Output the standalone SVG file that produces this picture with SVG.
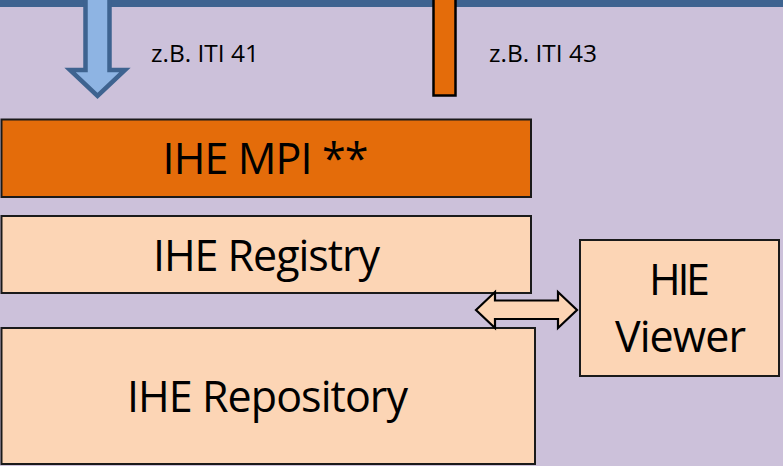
<svg xmlns="http://www.w3.org/2000/svg" width="783" height="466" viewBox="0 0 783 466">
  <style>
    .box { stroke: #1a1a1a; stroke-width: 2; }
    .peach { fill: #fcd5b5; }
    .orange { fill: #e46c0a; }
    .big { font-family: "Open Sans", "Liberation Sans", sans-serif; font-size: 43px; fill: #000; text-anchor: middle; }
    .small { font-family: "Open Sans", "Liberation Sans", sans-serif; font-size: 23.5px; fill: #000; }
  </style>
  <rect x="0" y="0" width="783" height="466" fill="#ccc1da"/>
  <rect x="0" y="0" width="783" height="7" fill="#3e6390"/>

  <g id="connectors">
    <path id="arrow-iti41" d="M85.5,-5 L85.5,70 L70,70 L97.5,96 L125,70 L109.5,70 L109.5,-5 Z" fill="#8eb4e3" stroke="#3e6390" stroke-width="4.5" stroke-linejoin="miter"/>
    <rect id="bar-iti43" x="433.5" y="-4" width="22" height="99.5" class="orange" stroke="#000" stroke-width="2.5"/>
  </g>

  <g id="label-iti41"><text class="small" x="151" y="61.5" textLength="108" lengthAdjust="spacingAndGlyphs">z.B. ITI 41</text></g>
  <g id="label-iti43"><text class="small" x="489" y="61.5" textLength="108" lengthAdjust="spacingAndGlyphs">z.B. ITI 43</text></g>

  <g id="mpi">
    <rect x="1.5" y="119.5" width="529.5" height="77.5" class="box orange"/>
    <text class="big" x="265.5" y="174" textLength="206">IHE MPI **</text>
  </g>
  <g id="registry">
    <rect x="1.5" y="216" width="529.5" height="77" class="box peach"/>
    <text class="big" x="266.5" y="271" textLength="227">IHE Registry</text>
  </g>
  <g id="repository">
    <rect x="1.5" y="328" width="533.5" height="136" class="box peach"/>
    <text class="big" x="267.5" y="412" textLength="281">IHE Repository</text>
  </g>
  <g id="viewer">
    <rect x="580" y="240" width="199" height="136" class="box peach"/>
    <text class="big" x="679.5" y="295" textLength="61">HIE</text>
    <text class="big" x="680.5" y="352" textLength="131">Viewer</text>
  </g>

  <g id="connectors-2">
    <path id="double-arrow" d="M476,310 L495,292 L495,300.5 L558,300.5 L558,292 L577,310 L558,328 L558,319 L495,319 L495,328 Z" class="peach" stroke="#000" stroke-width="2.2" stroke-linejoin="miter"/>
  </g>
</svg>
